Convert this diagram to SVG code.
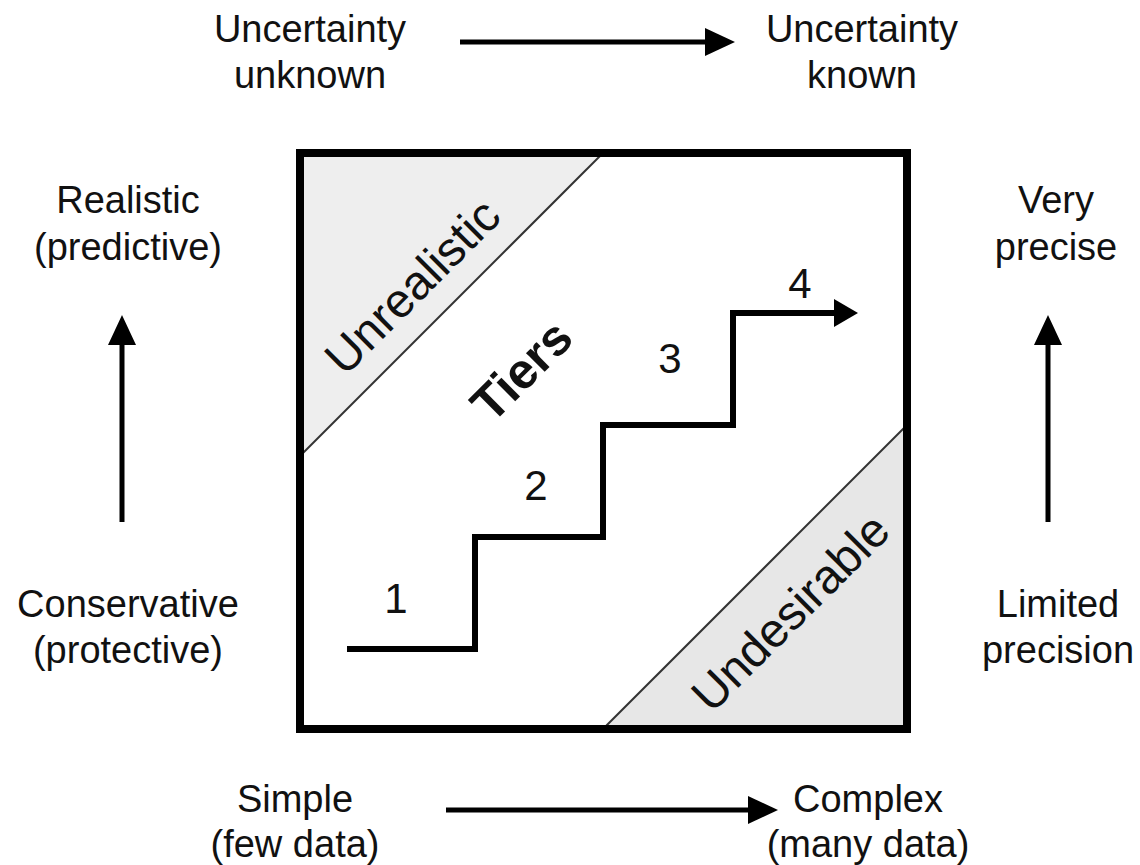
<svg xmlns="http://www.w3.org/2000/svg" width="1140" height="865" viewBox="0 0 1140 865">
<style>
text{font-family:"Liberation Sans",Arial,Helvetica,sans-serif;fill:#111;}
.lbl{font-size:38px;text-anchor:middle;}
.in{font-size:48px;text-anchor:middle;}
.num{font-size:42px;text-anchor:middle;}
.bold{font-size:50px;font-weight:bold;text-anchor:middle;}
.ax{stroke:#000;stroke-width:5;fill:none;}
.tri{stroke:none;}
.diag{stroke:#333;stroke-width:2;fill:none;}
.frame{fill:none;stroke:#000;stroke-width:8;}
.step{fill:none;stroke:#000;stroke-width:6;}
</style>
<defs>
<marker id="ah" markerUnits="userSpaceOnUse" markerWidth="30" markerHeight="28" viewBox="0 0 30 28" refX="2" refY="14" orient="auto"><path d="M0,0 L30,14 L0,28 Z" fill="#000"/></marker>
<marker id="ahs" markerUnits="userSpaceOnUse" markerWidth="24" markerHeight="28" viewBox="0 0 24 28" refX="2" refY="14" orient="auto"><path d="M0,0 L24,14 L0,28 Z" fill="#000"/></marker>
</defs>
<rect width="1140" height="865" fill="#fff"/>

<g id="frame-box">
<polygon class="tri" fill="#eeeeee" points="300,153 603,153 300,456"/>
<polygon class="tri" fill="#e7e7e7" points="907,425 907,729 603,729"/>
<line class="diag" x1="603" y1="153" x2="300" y2="456"/>
<line class="diag" x1="907" y1="425" x2="603" y2="729"/>
<rect class="frame" x="300" y="153" width="607" height="576"/>
</g>

<g id="unrealistic"><text class="in" transform="translate(412,286) rotate(-45)" x="0" y="17">Unrealistic</text></g>
<g id="undesirable"><text class="in" transform="translate(790,612) rotate(-45)" x="0" y="17">Undesirable</text></g>
<g id="tiers"><text class="bold" transform="translate(521,370) rotate(-45)" x="0" y="18">Tiers</text></g>

<g id="tier-1"><text class="num" x="396" y="613">1</text></g>
<g id="tier-2"><text class="num" x="536" y="500">2</text></g>
<g id="tier-3"><text class="num" x="670" y="373">3</text></g>
<g id="tier-4"><text class="num" x="800" y="298">4</text></g>

<g id="uncertainty-unknown"><text class="lbl" x="310" y="42">Uncertainty</text><text class="lbl" x="310" y="88">unknown</text></g>
<g id="uncertainty-known"><text class="lbl" x="862" y="42">Uncertainty</text><text class="lbl" x="862" y="88">known</text></g>
<g id="realistic"><text class="lbl" x="128" y="213">Realistic</text><text class="lbl" x="128" y="260">(predictive)</text></g>
<g id="very-precise"><text class="lbl" x="1056" y="213">Very</text><text class="lbl" x="1056" y="260">precise</text></g>
<g id="conservative"><text class="lbl" x="128" y="617">Conservative</text><text class="lbl" x="128" y="663">(protective)</text></g>
<g id="limited-precision"><text class="lbl" x="1058" y="617">Limited</text><text class="lbl" x="1058" y="663">precision</text></g>
<g id="simple"><text class="lbl" x="295" y="812">Simple</text><text class="lbl" x="295" y="857">(few data)</text></g>
<g id="complex"><text class="lbl" x="868" y="812">Complex</text><text class="lbl" x="868" y="857">(many data)</text></g>

<g id="connectors">
<path class="step" d="M347,649 H475 V537 H603 V425 H733 V313 H836" marker-end="url(#ahs)"/>
<line class="ax" x1="460" y1="42" x2="707" y2="42" marker-end="url(#ah)"/>
<line class="ax" x1="122" y1="522" x2="122" y2="343" marker-end="url(#ah)"/>
<line class="ax" x1="1048" y1="522" x2="1048" y2="343" marker-end="url(#ah)"/>
<line class="ax" x1="446" y1="810" x2="750" y2="810" marker-end="url(#ah)"/>
</g>
</svg>
